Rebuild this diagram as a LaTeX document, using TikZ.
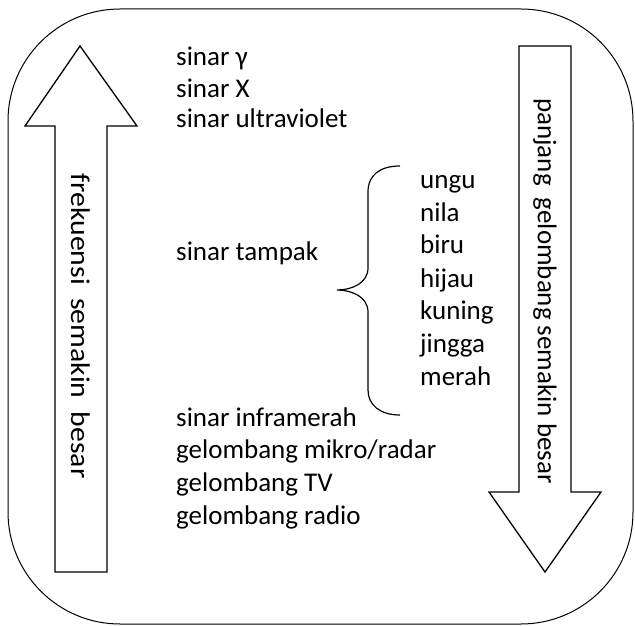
\documentclass[tikz,border=0pt]{standalone}
\usepackage{fontspec}
\usepackage{graphicx}
\setmainfont{Carlito}
\begin{document}
\begin{tikzpicture}[x=1pt,y=-1pt,
  lbl/.style={anchor=base west,inner sep=0pt,font=\fontsize{27}{33}\selectfont},
  vlbl/.style={rotate=-90,inner sep=0pt,font=\fontsize{27}{33}\selectfont},
  shp/.style={draw=black,line width=1.3pt,line join=miter}]
\useasboundingbox (0,0) rectangle (635,626);
\draw[line width=1pt,rounded corners=112pt] (8,9) rectangle (633,624);
% left arrow (up)
\draw[shp] (80,46) -- (137,126) -- (107,126) -- (107,572) -- (55,572) -- (55,126) -- (25,126) -- cycle;
% right arrow (down)
\draw[shp] (519,46) -- (571,46) -- (571,492) -- (601,492) -- (545,572) -- (489,492) -- (519,492) -- cycle;
\node[vlbl] (freq) at (81,326) {\scalebox{1.1}[1]{frekuensi\ \ semakin\ \ besar}};
\node[vlbl] (panj) at (545,291) {panjang\ \ gelombang semakin besar};
% left column
\node[lbl] (g) at (176,66) {sinar γ};
\node[lbl] (x) at (176,97) {sinar X};
\node[lbl] (uv) at (176,128) {sinar ultraviolet};
\node[lbl] (vis) at (176,260) {sinar tampak};
\node[lbl] (ir) at (176,426) {sinar inframerah};
\node[lbl] (mw) at (176,458) {gelombang mikro/radar};
\node[lbl] (tv) at (176,491) {gelombang TV};
\node[lbl] (rad) at (176,524) {gelombang radio};
% colours
\node[lbl] (c1) at (420,188) {ungu};
\node[lbl] (c2) at (420,221) {nila};
\node[lbl] (c3) at (420,253) {biru};
\node[lbl] (c4) at (420,287) {hijau};
\node[lbl] (c5) at (420,319) {kuning};
\node[lbl] (c6) at (420,352) {jingga};
\node[lbl] (c7) at (420,385) {merah};
% brace
\draw[line width=1.2pt] (400,166) .. controls (380,166) and (368,175) .. (368,192) -- (368,268)
  .. controls (368,283) and (352,290) .. (337,290)
  .. controls (352,290) and (368,297) .. (368,312) -- (368,390)
  .. controls (368,405) and (380,415) .. (400,415);
\end{tikzpicture}
\end{document}
